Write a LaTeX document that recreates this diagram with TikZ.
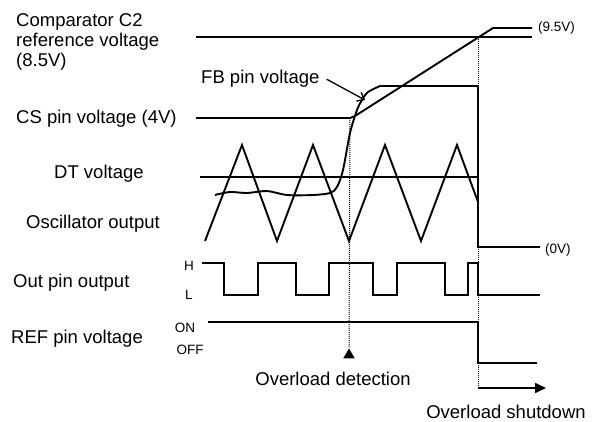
\documentclass[tikz,border=0pt]{standalone}
\usepackage{fontspec}
\setmainfont{Liberation Sans}
\usetikzlibrary{arrows.meta,shapes.geometric}

\begin{document}
\begin{tikzpicture}[x=1pt,y=-1pt]
\tikzstyle{sig}=[line width=1.9pt, line join=miter]
\tikzstyle{guide}=[line width=1pt, densely dotted]
\tikzstyle{lbl}=[font=\fontsize{18.5}{20}\selectfont, inner sep=0pt]
\tikzstyle{lvl}=[font=\fontsize{13.5}{15}\selectfont, inner sep=0pt]
\tikzstyle{detmark}=[isosceles triangle, shape border rotate=90, fill=black, inner sep=0pt, minimum width=10pt, minimum height=10pt, isosceles triangle apex angle=60]

\useasboundingbox (0,0) rectangle (601,421);

	% labels on the left
	\node[lbl, anchor=north west, align=left] (c2lbl) at (16,13.5) {Comparator C2\\reference voltage\\(8.5V)};
	\node[lbl, anchor=base west] (cslbl) at (16,123) {CS pin voltage (4V)};
	\node[lbl, anchor=base west] (dtlbl) at (54,178) {DT voltage};
	\node[lbl, anchor=base west] (osclbl) at (26,228) {Oscillator output};
	\node[lbl, anchor=base west] (outlbl) at (13,287) {Out pin output};
	\node[lbl, anchor=base west] (reflbl) at (11,343) {REF pin voltage};
	\node[lbl, anchor=base west] (fblbl) at (201,83) {FB pin voltage};

	\node[lvl] (hlbl) at (189,266) {H};
	\node[lvl] (llbl) at (189,295) {L};
	\node[lvl] (onlbl) at (185,328) {ON};
	\node[lvl] (offlbl) at (190,350) {OFF};
	\node[lvl, anchor=west] (hilbl) at (538,28) {(9.5V)};
	\node[lvl, anchor=west] (zerolbl) at (545,250) {(0V)};

	\node[lbl, anchor=base] (detlbl) at (333,385) {Overload detection};
	\node[lbl, anchor=base] (sdlbl) at (506,418) {Overload shutdown};

	% key points
	\coordinate (c2a) at (196,37);
	\coordinate (c2b) at (532,37);
	\coordinate (csa) at (196,118);
	\coordinate (csb) at (350,118);
	\coordinate (rampa) at (355,116);
	\coordinate (rampb) at (493,28);
	\coordinate (rampc) at (532,28);
	\coordinate (dta) at (200,177);
	\coordinate (dtb) at (478,177);
	\coordinate (shtop) at (478,37);
	\coordinate (fbend) at (478,86);
	\coordinate (zeroa) at (478,247);
	\coordinate (zerob) at (540,247);
	\coordinate (fbtip) at (365,100);
	\coordinate (sda) at (478,388);
	\coordinate (sdb) at (546,388);
	\node[detmark, anchor=apex] (detect) at (349,348) {};

	% reference levels
	\draw[sig] (c2a) -- (c2b);
	\draw[sig] (csa) -- (csb) -- (rampa) -- (rampb) -- (rampc);
	\draw[sig] (dta) -- (dtb);

	% FB pin voltage
	\draw[sig] plot[smooth, tension=0.5] coordinates {(215,195) (230,192) (247,193) (267,191) (287,195) (313,195) (330,193) (337,187) (343,170) (350,133) (357,110) (362,100) (368,92) (380,86)} -- (fbend) -- (zeroa) -- (zerob);
	\draw[line width=1.3pt, -{Straight Barb[length=6pt,width=10pt]}] ([xshift=7pt,yshift=-1pt]fblbl.east) -- (fbtip);

	% oscillator
	\draw[sig] (205,241) -- (242,145) -- (277,241) -- (313,145) -- (349,241) -- (385,145) -- (421,241) -- (457,145) -- (478,202);

	% out pin
	\draw[sig] (202,263) -- (224,263) -- (224,295) -- (258,295) -- (258,263) -- (296,263) -- (296,295) -- (329,295) -- (329,263) -- (373,263) -- (373,295) -- (397,295) -- (397,263) -- (445,263) -- (445,295) -- (468,295) -- (468,263) -- (478,263) -- (478,295) -- (540,295);

	% REF pin
	\draw[sig] (208,322) -- (478,322) -- (478,363) -- (537,363);

	% markers
	\draw[guide] (csb) -- (detect.apex);
	\draw[guide] (shtop) -- (sda);
	\draw[sig, -{Triangle[length=11pt,width=10pt]}] (sda) -- (sdb);

\end{tikzpicture}
\end{document}
